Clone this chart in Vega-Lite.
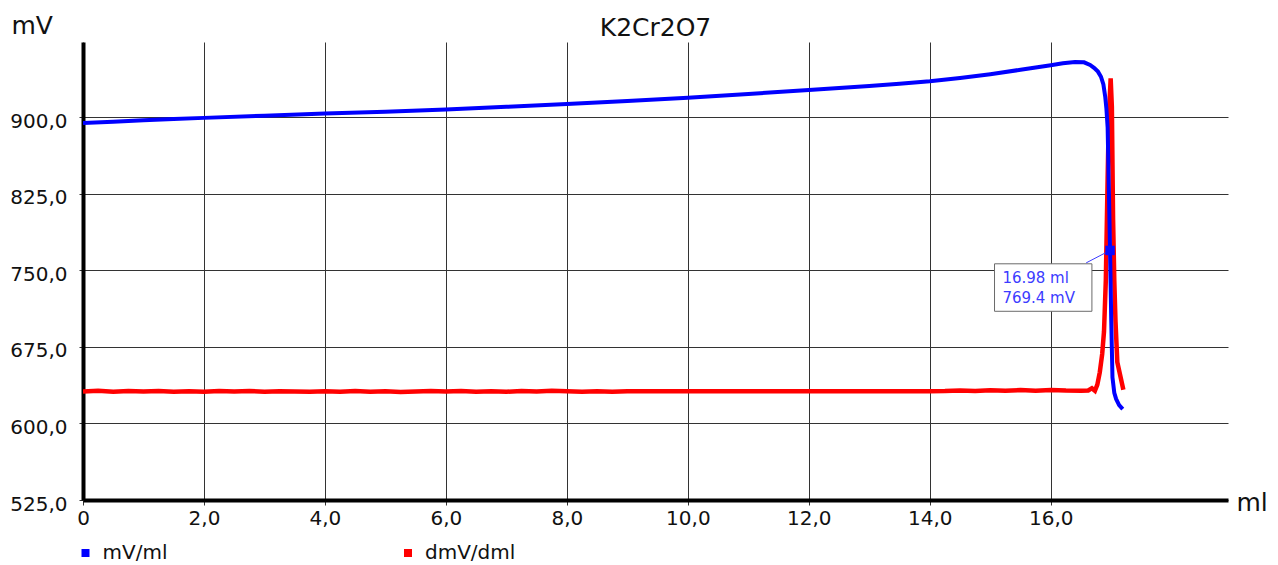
{
  "$schema": "https://vega.github.io/schema/vega-lite/v6.json",
  "width": 1145,
  "height": 458,
  "autosize": {"type": "none"},
  "padding": {"left": 83, "top": 42, "right": 50, "bottom": 65},
  "background": "white",
  "title": {"text": "K2Cr2O7", "fontSize": 25, "font": "DejaVu Sans", "fontWeight": "normal", "color": "#111111", "anchor": "middle", "frame": "group", "baseline": "alphabetic", "dy": 52},
  "config": {"view": {"stroke": null}, "font": "DejaVu Sans"},
  "datasets": {
    "curves": [
      {"ml": 0, "mv": 894.3, "series": "mV/ml"},
      {"ml": 0.5, "mv": 895.4, "series": "mV/ml"},
      {"ml": 1, "mv": 896.8, "series": "mV/ml"},
      {"ml": 1.5, "mv": 898.0, "series": "mV/ml"},
      {"ml": 2, "mv": 899.2, "series": "mV/ml"},
      {"ml": 3, "mv": 901.3, "series": "mV/ml"},
      {"ml": 4, "mv": 903.4, "series": "mV/ml"},
      {"ml": 5, "mv": 905.3, "series": "mV/ml"},
      {"ml": 6, "mv": 907.3, "series": "mV/ml"},
      {"ml": 7, "mv": 910.0, "series": "mV/ml"},
      {"ml": 8, "mv": 912.9, "series": "mV/ml"},
      {"ml": 9, "mv": 915.8, "series": "mV/ml"},
      {"ml": 10, "mv": 918.8, "series": "mV/ml"},
      {"ml": 11, "mv": 922.6, "series": "mV/ml"},
      {"ml": 12, "mv": 926.5, "series": "mV/ml"},
      {"ml": 12.5, "mv": 928.4, "series": "mV/ml"},
      {"ml": 13, "mv": 930.4, "series": "mV/ml"},
      {"ml": 13.5, "mv": 932.6, "series": "mV/ml"},
      {"ml": 14, "mv": 935.0, "series": "mV/ml"},
      {"ml": 14.5, "mv": 938.2, "series": "mV/ml"},
      {"ml": 15, "mv": 942.0, "series": "mV/ml"},
      {"ml": 15.5, "mv": 946.3, "series": "mV/ml"},
      {"ml": 16, "mv": 950.8, "series": "mV/ml"},
      {"ml": 16.2, "mv": 952.6, "series": "mV/ml"},
      {"ml": 16.4, "mv": 954.0, "series": "mV/ml"},
      {"ml": 16.55, "mv": 953.6, "series": "mV/ml"},
      {"ml": 16.65, "mv": 951.0, "series": "mV/ml"},
      {"ml": 16.72, "mv": 948.0, "series": "mV/ml"},
      {"ml": 16.78, "mv": 944.5, "series": "mV/ml"},
      {"ml": 16.83, "mv": 939.5, "series": "mV/ml"},
      {"ml": 16.87, "mv": 932.0, "series": "mV/ml"},
      {"ml": 16.9, "mv": 920.0, "series": "mV/ml"},
      {"ml": 16.92, "mv": 908.0, "series": "mV/ml"},
      {"ml": 16.94, "mv": 890.0, "series": "mV/ml"},
      {"ml": 16.96, "mv": 830.0, "series": "mV/ml"},
      {"ml": 16.98, "mv": 769.4, "series": "mV/ml"},
      {"ml": 17.0, "mv": 700.0, "series": "mV/ml"},
      {"ml": 17.02, "mv": 645.0, "series": "mV/ml"},
      {"ml": 17.05, "mv": 630.0, "series": "mV/ml"},
      {"ml": 17.08, "mv": 624.0, "series": "mV/ml"},
      {"ml": 17.13, "mv": 618.0, "series": "mV/ml"},
      {"ml": 17.19, "mv": 614.0, "series": "mV/ml"},
      {"ml": 0, "mv": 631.3, "series": "dmV/dml"},
      {"ml": 0.25, "mv": 631.9, "series": "dmV/dml"},
      {"ml": 0.5, "mv": 631.0, "series": "dmV/dml"},
      {"ml": 0.75, "mv": 631.7, "series": "dmV/dml"},
      {"ml": 1.0, "mv": 631.2, "series": "dmV/dml"},
      {"ml": 1.25, "mv": 631.8, "series": "dmV/dml"},
      {"ml": 1.5, "mv": 631.1, "series": "dmV/dml"},
      {"ml": 1.75, "mv": 631.6, "series": "dmV/dml"},
      {"ml": 2.0, "mv": 631.0, "series": "dmV/dml"},
      {"ml": 2.25, "mv": 631.7, "series": "dmV/dml"},
      {"ml": 2.5, "mv": 631.2, "series": "dmV/dml"},
      {"ml": 2.75, "mv": 631.8, "series": "dmV/dml"},
      {"ml": 3.0, "mv": 631.0, "series": "dmV/dml"},
      {"ml": 3.25, "mv": 631.6, "series": "dmV/dml"},
      {"ml": 3.5, "mv": 631.2, "series": "dmV/dml"},
      {"ml": 3.75, "mv": 630.9, "series": "dmV/dml"},
      {"ml": 4.0, "mv": 631.5, "series": "dmV/dml"},
      {"ml": 4.25, "mv": 631.1, "series": "dmV/dml"},
      {"ml": 4.5, "mv": 631.8, "series": "dmV/dml"},
      {"ml": 4.75, "mv": 631.0, "series": "dmV/dml"},
      {"ml": 5.0, "mv": 631.4, "series": "dmV/dml"},
      {"ml": 5.25, "mv": 630.8, "series": "dmV/dml"},
      {"ml": 5.5, "mv": 631.3, "series": "dmV/dml"},
      {"ml": 5.75, "mv": 631.7, "series": "dmV/dml"},
      {"ml": 6.0, "mv": 631.2, "series": "dmV/dml"},
      {"ml": 6.25, "mv": 631.8, "series": "dmV/dml"},
      {"ml": 6.5, "mv": 631.1, "series": "dmV/dml"},
      {"ml": 6.75, "mv": 631.6, "series": "dmV/dml"},
      {"ml": 7.0, "mv": 631.0, "series": "dmV/dml"},
      {"ml": 7.25, "mv": 631.7, "series": "dmV/dml"},
      {"ml": 7.5, "mv": 631.2, "series": "dmV/dml"},
      {"ml": 7.75, "mv": 631.9, "series": "dmV/dml"},
      {"ml": 8.0, "mv": 631.4, "series": "dmV/dml"},
      {"ml": 8.25, "mv": 631.0, "series": "dmV/dml"},
      {"ml": 8.5, "mv": 631.6, "series": "dmV/dml"},
      {"ml": 8.75, "mv": 631.1, "series": "dmV/dml"},
      {"ml": 9.0, "mv": 631.5, "series": "dmV/dml"},
      {"ml": 9.25, "mv": 631.4, "series": "dmV/dml"},
      {"ml": 9.5, "mv": 631.5, "series": "dmV/dml"},
      {"ml": 10.0, "mv": 631.5, "series": "dmV/dml"},
      {"ml": 10.5, "mv": 631.6, "series": "dmV/dml"},
      {"ml": 11.0, "mv": 631.5, "series": "dmV/dml"},
      {"ml": 11.5, "mv": 631.5, "series": "dmV/dml"},
      {"ml": 12.0, "mv": 631.6, "series": "dmV/dml"},
      {"ml": 12.5, "mv": 631.5, "series": "dmV/dml"},
      {"ml": 13.0, "mv": 631.6, "series": "dmV/dml"},
      {"ml": 13.5, "mv": 631.5, "series": "dmV/dml"},
      {"ml": 14.0, "mv": 631.6, "series": "dmV/dml"},
      {"ml": 14.25, "mv": 631.7, "series": "dmV/dml"},
      {"ml": 14.5, "mv": 632.2, "series": "dmV/dml"},
      {"ml": 14.75, "mv": 631.8, "series": "dmV/dml"},
      {"ml": 15.0, "mv": 632.5, "series": "dmV/dml"},
      {"ml": 15.25, "mv": 632.0, "series": "dmV/dml"},
      {"ml": 15.5, "mv": 632.7, "series": "dmV/dml"},
      {"ml": 15.75, "mv": 632.1, "series": "dmV/dml"},
      {"ml": 16.0, "mv": 632.8, "series": "dmV/dml"},
      {"ml": 16.25, "mv": 632.2, "series": "dmV/dml"},
      {"ml": 16.5, "mv": 632.0, "series": "dmV/dml"},
      {"ml": 16.62, "mv": 632.3, "series": "dmV/dml"},
      {"ml": 16.68, "mv": 634.5, "series": "dmV/dml"},
      {"ml": 16.73, "mv": 632.0, "series": "dmV/dml"},
      {"ml": 16.77, "mv": 638.0, "series": "dmV/dml"},
      {"ml": 16.81, "mv": 650.0, "series": "dmV/dml"},
      {"ml": 16.85, "mv": 668.0, "series": "dmV/dml"},
      {"ml": 16.88, "mv": 690.0, "series": "dmV/dml"},
      {"ml": 16.91, "mv": 740.0, "series": "dmV/dml"},
      {"ml": 16.94, "mv": 840.0, "series": "dmV/dml"},
      {"ml": 16.96, "mv": 900.0, "series": "dmV/dml"},
      {"ml": 16.99, "mv": 938.0, "series": "dmV/dml"},
      {"ml": 17.01, "mv": 910.0, "series": "dmV/dml"},
      {"ml": 17.03, "mv": 800.0, "series": "dmV/dml"},
      {"ml": 17.05, "mv": 740.0, "series": "dmV/dml"},
      {"ml": 17.07, "mv": 700.0, "series": "dmV/dml"},
      {"ml": 17.1, "mv": 660.0, "series": "dmV/dml"},
      {"ml": 17.2, "mv": 633.0, "series": "dmV/dml"}
    ],
    "box": [{"ml": 15.07, "ml2": 16.68, "mv": 756.3, "mv2": 709.8}],
    "link": [{"ml": 16.585, "ml2": 16.98, "mv": 757.2, "mv2": 769.4}],
    "labels": [
      {"ml": 15.2, "mv": 737.7, "txt": "16.98 ml"},
      {"ml": 15.2, "mv": 718.1, "txt": "769.4 mV"}
    ],
    "marker": [{"ml": 16.98, "mv": 769.4}]
  },
  "encoding": {
    "x": {
      "field": "ml", "type": "quantitative",
      "scale": {"domain": [0, 18.93], "nice": false, "zero": false},
      "axis": {
        "values": [0, 2, 4, 6, 8, 10, 12, 14, 16],
        "labelExpr": "datum.value == 0 ? '0' : replace(format(datum.value, '.1f'), '.', ',')",
        "grid": true, "gridColor": "#333333", "gridWidth": 1, "gridOpacity": 1,
        "domain": true, "domainColor": "#000000", "domainWidth": 4,
        "ticks": true, "tickSize": 5, "tickColor": "#333333", "tickWidth": 1,
        "labelFontSize": 20, "labelFont": "DejaVu Sans", "labelColor": "#111111", "labelPadding": 3,
        "labelFlush": false, "labelOverlap": false,
        "title": "ml", "titleFontSize": 25, "titleFont": "DejaVu Sans", "titleFontWeight": "normal", "titleColor": "#111111",
        "titleAngle": 0, "titleAlign": "left", "titleBaseline": "alphabetic", "titleX": 1153, "titleY": 10
      }
    },
    "y": {
      "field": "mv", "type": "quantitative",
      "scale": {"domain": [525, 973.5], "nice": false, "zero": false},
      "axis": {
        "values": [525, 600, 675, 750, 825, 900],
        "labelExpr": "replace(format(datum.value, '.1f'), '.', ',')",
        "grid": true, "gridColor": "#333333", "gridWidth": 1, "gridOpacity": 1,
        "domain": true, "domainColor": "#000000", "domainWidth": 4,
        "ticks": true, "tickSize": 4, "tickColor": "#333333", "tickWidth": 1,
        "labelFontSize": 20, "labelFont": "DejaVu Sans", "labelColor": "#111111", "labelPadding": 12,
        "labelOffset": 4, "labelFlush": false, "labelOverlap": false,
        "title": "mV", "titleFontSize": 25, "titleFont": "DejaVu Sans", "titleFontWeight": "normal", "titleColor": "#111111",
        "titleAngle": 0, "titleAlign": "left", "titleBaseline": "alphabetic", "titleX": -72, "titleY": -9
      }
    }
  },
  "layer": [
    {
      "data": {"name": "curves"},
      "transform": [{"filter": "datum.series == 'dmV/dml'"}],
      "mark": {"type": "line", "strokeWidth": 4.5, "clip": true},
      "encoding": {
        "color": {
          "field": "series", "type": "nominal",
          "scale": {"domain": ["mV/ml", "dmV/dml"], "range": ["#0000ff", "#ff0000"]},
          "legend": {
            "title": null, "orient": "none", "legendX": -7.5, "legendY": 501, "direction": "horizontal",
            "symbolType": "square", "symbolSize": 64, "symbolStrokeWidth": 0,
            "labelFontSize": 20, "labelFont": "DejaVu Sans", "labelColor": "#111111", "labelOffset": 7,
            "columnPadding": 230.5, "padding": 0,
            "encode": {"symbols": {"update": {"fill": {"scale": "color", "field": "value"}, "strokeWidth": {"value": 0}}}}
          }
        }
      }
    },
    {
      "data": {"name": "curves"},
      "transform": [{"filter": "datum.series == 'mV/ml'"}],
      "mark": {"type": "line", "strokeWidth": 4, "clip": true},
      "encoding": {
        "color": {"field": "series", "type": "nominal"}
      }
    },
    {
      "data": {"name": "link"},
      "mark": {"type": "rule", "color": "#3c3cff", "strokeWidth": 1},
      "encoding": {
        "x2": {"field": "ml2"},
        "y2": {"field": "mv2"}
      }
    },
    {
      "data": {"name": "box"},
      "mark": {"type": "rect", "fill": "#ffffff", "stroke": "#6a6a6a", "strokeWidth": 1},
      "encoding": {
        "x2": {"field": "ml2"},
        "y2": {"field": "mv2"}
      }
    },
    {
      "data": {"name": "labels"},
      "mark": {"type": "text", "align": "left", "baseline": "alphabetic", "fontSize": 15, "font": "DejaVu Sans", "color": "#3c3cff"},
      "encoding": {
        "text": {"field": "txt"}
      }
    },
    {
      "data": {"name": "marker"},
      "mark": {"type": "point", "shape": "square", "filled": true, "size": 90, "color": "#0a0aff", "opacity": 1}
    }
  ]
}
